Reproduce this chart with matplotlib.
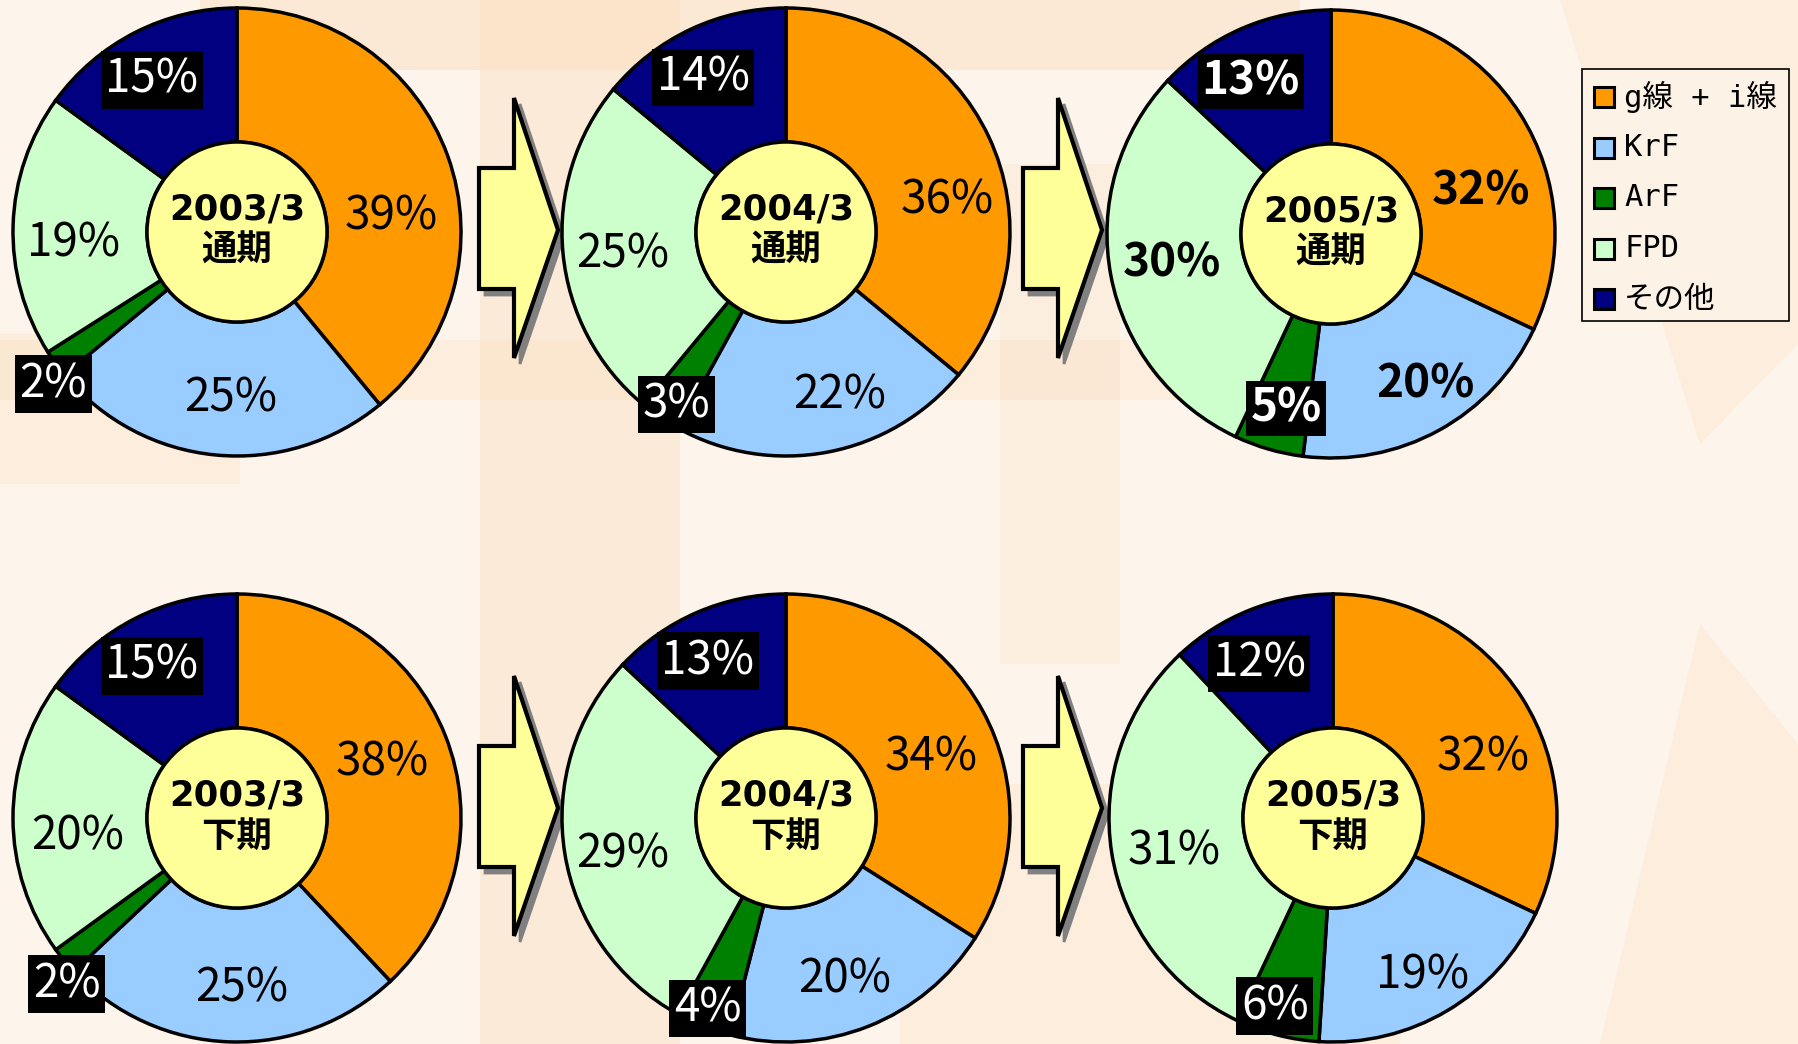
import matplotlib.pyplot as plt
from matplotlib.patches import Circle, Polygon, Rectangle

plt.rcParams['font.family'] = ['Noto Sans CJK JP', 'DejaVu Sans']

# data
categories = ["g線 + i線", "KrF", "ArF", "FPD", "その他"]
colors = ["#FF9900", "#99CCFF", "#008000", "#CCFFCC", "#000080"]
periods = ["2003/3\n通期", "2004/3\n通期", "2005/3\n通期",
           "2003/3\n下期", "2004/3\n下期", "2005/3\n下期"]
share_2003_full = [39, 25, 2, 19, 15]
share_2004_full = [36, 22, 3, 25, 14]
share_2005_full = [32, 20, 5, 30, 13]
share_2003_half = [38, 25, 2, 20, 15]
share_2004_half = [34, 20, 4, 29, 13]
share_2005_half = [32, 19, 6, 31, 12]
shares = [share_2003_full, share_2004_full, share_2005_full,
          share_2003_half, share_2004_half, share_2005_half]

# layout (pixel space, y up)
W, H = 1798, 1044
R = 224
R_IN = 90
centers = [(237, H - 232), (786, H - 232), (1331, H - 234),
           (237, H - 818), (786, H - 818), (1333, H - 818)]
# label offsets in units of radius, per wedge (order as categories)
label_off = [
    [(0.69, 0.07), (-0.03, -0.74), (-0.82, -0.68), (-0.73, -0.05), (-0.38, 0.68)],
    [(0.72, 0.14), (0.24, -0.73), (-0.49, -0.77), (-0.73, -0.10), (-0.37, 0.69)],
    [(0.67, 0.19), (0.42, -0.67), (-0.20, -0.78), (-0.71, -0.13), (-0.36, 0.68)],
    [(0.65, 0.25), (0.02, -0.76), (-0.76, -0.74), (-0.71, -0.08), (-0.38, 0.68)],
    [(0.65, 0.27), (0.26, -0.72), (-0.35, -0.85), (-0.73, -0.16), (-0.35, 0.70)],
    [(0.67, 0.27), (0.40, -0.70), (-0.26, -0.84), (-0.71, -0.15), (-0.33, 0.69)],
]
bold_charts = [2]

fig = plt.figure(figsize=(W / 100, H / 100), dpi=100)
fig.patch.set_facecolor("#FDF4EC")
ax = fig.add_axes([0, 0, 1, 1])

# faint watermark-like background
bg = "#FBDDBB"
for (x, y, w, h, a) in [(200, H - 70, 1100, 70, 0.45), (480, 0, 200, H, 0.4),
                        (0, H - 400, 1500, 60, 0.3), (900, 0, 500, 260, 0.3),
                        (1000, 380, 120, 500, 0.25), (0, 560, 240, 150, 0.3)]:
    ax.add_patch(Rectangle((x, y), w, h, facecolor=bg, edgecolor="none",
                           alpha=a, zorder=0))
ax.add_patch(Polygon([(1560, H), (1798, H), (1798, 700), (1700, 600)],
                     facecolor=bg, edgecolor="none", alpha=0.3, zorder=0))
ax.add_patch(Polygon([(1600, 0), (1798, 0), (1798, 300), (1700, 420)],
                     facecolor=bg, edgecolor="none", alpha=0.3, zorder=0))

for i, (vals, c) in enumerate(zip(shares, centers)):
    ax.pie(vals, colors=colors, startangle=90, counterclock=False,
           center=c, radius=R, frame=True,
           wedgeprops=dict(width=R - R_IN, edgecolor="black", linewidth=2.5,
                           zorder=2))
    ax.add_patch(Circle(c, R_IN, facecolor="#FFFF99", edgecolor="black",
                        linewidth=2.5, zorder=3))
    ax.text(c[0], c[1] + 2, periods[i], ha="center", va="center",
            fontsize=25.5, fontweight="bold", linespacing=1.25, zorder=4,
            family=["DejaVu Sans", "Noto Sans CJK JP"])
    weight = "bold" if i in bold_charts else "normal"
    for j, v in enumerate(vals):
        dx, dy = label_off[i][j]
        x, y = c[0] + dx * R, c[1] + dy * R
        if j in (2, 4):
            ax.text(x, y, f"{v}%", ha="center", va="center", fontsize=33,
                    color="white", fontweight=weight, zorder=5,
                    bbox=dict(boxstyle="square,pad=0.1", facecolor="black",
                              edgecolor="none"))
        else:
            ax.text(x, y, f"{v}%", ha="center", va="center", fontsize=33,
                    color="black", fontweight=weight, zorder=5)

# block arrows between pies
def block_arrow(x0, ytip):
    pts = [(x0, ytip + 62), (x0 + 35, ytip + 62), (x0 + 35, ytip + 132),
           (x0 + 79, ytip), (x0 + 35, ytip - 128), (x0 + 35, ytip - 59),
           (x0, ytip - 59)]
    shadow = [(px + 6, py - 6) for px, py in pts]
    ax.add_patch(Polygon(shadow, closed=True, facecolor="#808080",
                         edgecolor="#808080", linewidth=2, zorder=1))
    ax.add_patch(Polygon(pts, closed=True, facecolor="#FFFF99",
                         edgecolor="black", linewidth=3, joinstyle="miter",
                         zorder=1.5))

for row_y in (H - 230, H - 808):
    block_arrow(479, row_y)
    block_arrow(1023, row_y)

# legend
lx0, ly0, lw, lh = 1582, H - 321, 207, 252
ax.add_patch(Rectangle((lx0, ly0), lw, lh, facecolor="#FCF3E6",
                       edgecolor="black", linewidth=1.2, zorder=6))
for k, (name, col) in enumerate(zip(categories, colors)):
    yy = H - 97 - k * 50.5
    ax.add_patch(Rectangle((lx0 + 12, yy - 10), 20, 20, facecolor=col,
                           edgecolor="black", linewidth=2.2, zorder=7))
    ax.text(lx0 + 42, yy, name, ha="left", va="center", fontsize=22,
            zorder=7, family=["DejaVu Sans Mono", "Noto Sans CJK JP"])

ax.set_xlim(0, W)
ax.set_ylim(0, H)
ax.set_aspect("equal")
ax.axis("off")

fig.savefig("out.png", dpi=100, facecolor=fig.get_facecolor())
